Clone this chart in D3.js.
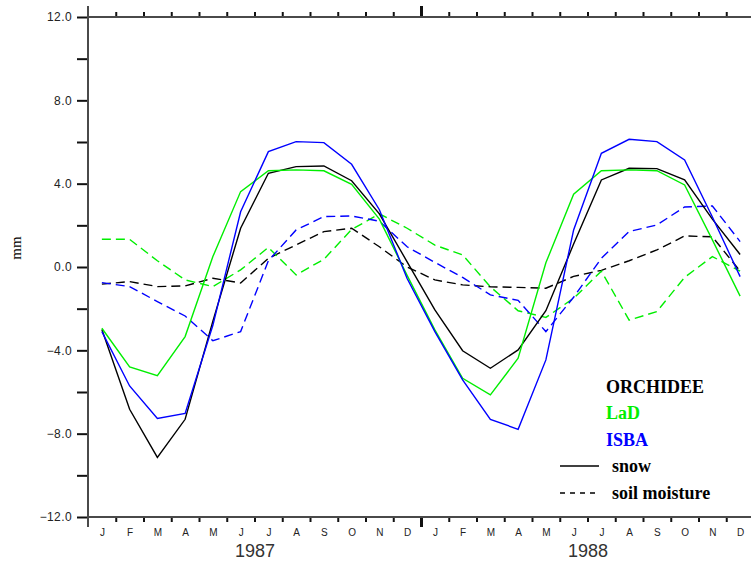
<!DOCTYPE html>
<html>
<head>
<meta charset="utf-8">
<script src="https://cdn.jsdelivr.net/npm/d3@7"></script>
<style>
  html, body { margin: 0; padding: 0; background: #fff; }
  svg { display: block; }
</style>
</head>
<body>
<svg id="chart" width="751" height="563"></svg>
<script>
// Monthly anomalies (mm), Jan 1987 – Dec 1988
const monthLabels = ["J","F","M","A","M","J","J","A","S","O","N","D",
                     "J","F","M","A","M","J","J","A","S","O","N","D"];
const yearLabels = ["1987", "1988"];
const yTicks = [-12, -10, -8, -6, -4, -2, 0, 2, 4, 6, 8, 10, 12];

const orchideeSnow = [-3.0, -6.83, -9.14, -7.31, -2.6, 1.86, 4.5, 4.82, 4.85, 4.14, 2.55, 0.25,
                      -2.06, -4.02, -4.86, -3.98, -2.1, 1.1, 4.18, 4.74, 4.72, 4.18, 2.3, 0.6];
const orchideeSoil = [-0.82, -0.7, -0.94, -0.91, -0.54, -0.77, 0.42, 1.06, 1.7, 1.86, 0.97, 0.0,
                      -0.62, -0.86, -0.95, -0.98, -1.02, -0.45, -0.16, 0.3, 0.82, 1.49, 1.45, -0.2];
const ladSnow = [-2.94, -4.79, -5.22, -3.34, 0.5, 3.62, 4.62, 4.66, 4.62, 3.97, 2.3, -0.4,
                 -3.02, -5.34, -6.14, -4.38, 0.2, 3.49, 4.62, 4.66, 4.62, 3.94, 1.3, -1.4];
const ladSoil = [1.33, 1.33, 0.3, -0.62, -0.94, -0.14, 0.94, -0.38, 0.37, 1.8, 2.55, 1.86,
                 1.05, 0.58, -0.95, -2.1, -2.42, -1.5, -0.2, -2.55, -2.14, -0.5, 0.5, -0.2];
const isbaSnow = [-3.1, -5.71, -7.27, -7.03, -2.8, 2.65, 5.54, 6.02, 5.97, 4.93, 2.75, -0.55,
                  -3.1, -5.42, -7.31, -7.79, -4.46, 1.78, 5.46, 6.13, 6.02, 5.14, 2.4, -0.46];
const isbaSoil = [-0.75, -0.94, -1.66, -2.35, -3.54, -3.1, 0.3, 1.78, 2.42, 2.45, 2.2, 0.97,
                  0.22, -0.5, -1.34, -1.6, -3.1, -1.45, 0.42, 1.7, 2.02, 2.88, 2.93, 1.22];

const models = [
  { name: "ORCHIDEE", color: "#000000", snow: orchideeSnow, soil: orchideeSoil },
  { name: "LaD",      color: "#00ee00", snow: ladSnow,      soil: ladSoil },
  { name: "ISBA",     color: "#0000ff", snow: isbaSnow,     soil: isbaSoil }
];

const svg = d3.select("#chart");
const plotLeft = 88, plotTop = 17, plotBottom = 517, plotRight = 754;

const x = d3.scaleLinear().domain([0, 24]).range([plotLeft, plotRight]);
const y = d3.scaleLinear().domain([-12, 12]).range([plotBottom, plotTop]);

const axisColor = "#4a4a4a";
const sans = "'Liberation Sans', Arial, Helvetica, sans-serif";
const serif = "'Liberation Serif', 'Times New Roman', Times, serif";

// ---- data lines ----
const line = d3.line()
  .x((d, i) => x(i + 0.5))
  .y(d => y(d));

const plot = svg.append("g");
models.forEach(m => {
  plot.append("path")
    .attr("d", line(m.soil))
    .attr("fill", "none")
    .attr("stroke", m.color)
    .attr("stroke-width", 1.4)
    .attr("stroke-dasharray", "9,5");
});
models.forEach(m => {
  plot.append("path")
    .attr("d", line(m.snow))
    .attr("fill", "none")
    .attr("stroke", m.color)
    .attr("stroke-width", 1.4);
});

// ---- y axis ----
const yAxis = d3.axisLeft(y)
  .tickValues(yTicks)
  .tickSize(11)
  .tickPadding(5)
  .tickFormat(d => (d % 4 === 0 ? d3.format(".1f")(d) : ""));
const gy = svg.append("g").attr("transform", `translate(${plotLeft},0)`).call(yAxis);
gy.select(".domain").remove();
gy.selectAll(".tick line").attr("stroke", "#111").attr("stroke-width", 2);
gy.selectAll(".tick text")
  .attr("font-family", sans).attr("font-size", 12).attr("fill", "#222")
  .attr("letter-spacing", 0.4);

// ---- month boundary ticks (top and bottom) ----
const bounds = d3.range(1, 24).filter(v => v !== 12);
const topAxis = d3.axisTop(x).tickValues(bounds).tickSize(5).tickFormat("");
const gt = svg.append("g").attr("transform", `translate(0,${plotTop})`).call(topAxis);
gt.select(".domain").remove();
gt.selectAll(".tick line").attr("stroke", "#111").attr("stroke-width", 2);

const botAxis = d3.axisBottom(x).tickValues(bounds).tickSize(5).tickFormat("");
const gb = svg.append("g").attr("transform", `translate(0,${plotBottom})`).call(botAxis);
gb.select(".domain").remove();
gb.selectAll(".tick line").attr("stroke", "#111").attr("stroke-width", 2);

// year boundary ticks
const yearTop = d3.axisTop(x).tickValues([12]).tickSize(11).tickFormat("");
const gyt = svg.append("g").attr("transform", `translate(0,${plotTop})`).call(yearTop);
gyt.select(".domain").remove();
gyt.selectAll(".tick line").attr("stroke", "#111").attr("stroke-width", 3);
const yearBot = d3.axisBottom(x).tickValues([12]).tickSize(10).tickFormat("");
const gyb = svg.append("g").attr("transform", `translate(0,${plotBottom})`).call(yearBot);
gyb.select(".domain").remove();
gyb.selectAll(".tick line").attr("stroke", "#111").attr("stroke-width", 3);

// ---- axis lines ----
svg.append("line").attr("x1", plotLeft).attr("x2", plotLeft).attr("y1", 6).attr("y2", 527)
  .attr("stroke", axisColor).attr("stroke-width", 2);
svg.append("line").attr("x1", plotLeft).attr("x2", 751).attr("y1", plotTop).attr("y2", plotTop)
  .attr("stroke", axisColor).attr("stroke-width", 2);
svg.append("line").attr("x1", plotLeft).attr("x2", 751).attr("y1", plotBottom).attr("y2", plotBottom)
  .attr("stroke", axisColor).attr("stroke-width", 2);

// ---- month labels ----
const monthAxis = d3.axisBottom(x)
  .tickValues(d3.range(24).map(i => i + 0.5))
  .tickSize(0).tickPadding(12)
  .tickFormat((d, i) => monthLabels[i]);
const gm = svg.append("g").attr("transform", `translate(0,${plotBottom})`).call(monthAxis);
gm.select(".domain").remove();
gm.selectAll(".tick text")
  .attr("font-family", sans).attr("font-size", 10).attr("fill", "#222");

// ---- year labels ----
const yearAxis = d3.axisBottom(x)
  .tickValues([6, 18])
  .tickSize(0).tickPadding(27)
  .tickFormat((d, i) => yearLabels[i]);
const gyr = svg.append("g").attr("transform", `translate(0,${plotBottom})`).call(yearAxis);
gyr.select(".domain").remove();
gyr.selectAll(".tick text")
  .attr("font-family", sans).attr("font-size", 18).attr("fill", "#333");

// ---- y label ----
svg.append("text")
  .attr("transform", "translate(21,248) rotate(-90)")
  .attr("text-anchor", "middle")
  .attr("font-family", serif).attr("font-size", 15).attr("fill", "#000")
  .text("mm");

// ---- legend ----
const legend = svg.append("g").attr("font-family", serif).attr("font-weight", "bold").attr("font-size", 18);
const nameY = [393, 419, 446];
models.forEach((m, i) => {
  legend.append("text").attr("x", 606).attr("y", nameY[i]).attr("fill", m.color).text(m.name);
});
legend.append("line").attr("x1", 560).attr("x2", 599).attr("y1", 466).attr("y2", 466)
  .attr("stroke", "#000").attr("stroke-width", 1.4);
legend.append("text").attr("x", 612).attr("y", 471.5).attr("fill", "#000").text("snow");
legend.append("line").attr("x1", 560).attr("x2", 599).attr("y1", 493).attr("y2", 493)
  .attr("stroke", "#000").attr("stroke-width", 1.4).attr("stroke-dasharray", "5,5");
legend.append("text").attr("x", 612).attr("y", 499).attr("fill", "#000").text("soil moisture");
</script>
</body>
</html>
